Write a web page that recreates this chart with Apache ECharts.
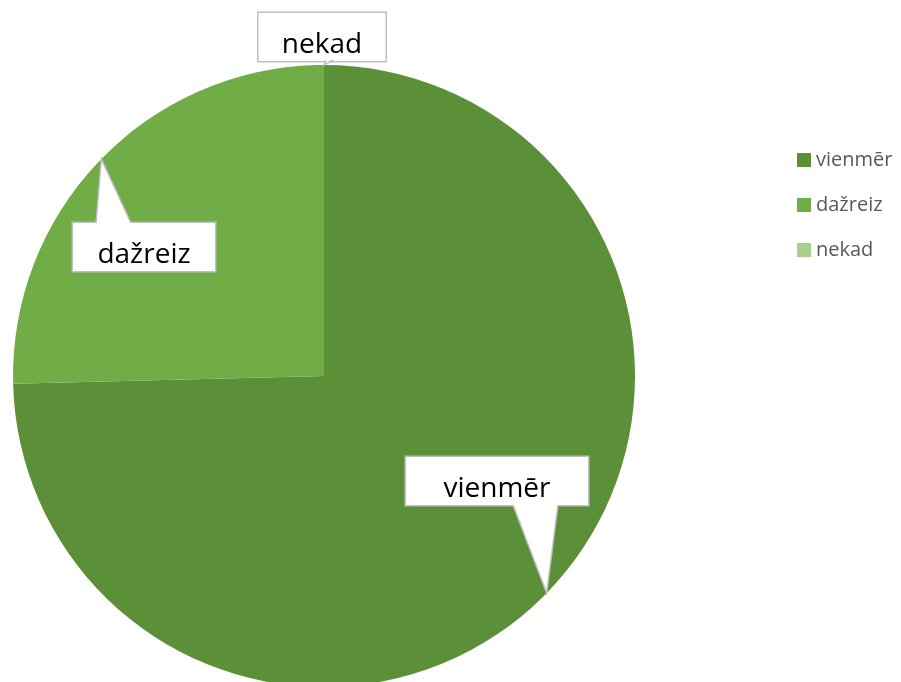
<!DOCTYPE html>
<html>
  <head>
    <meta charset="utf-8" />
    <title>vienmēr / dažreiz / nekad</title>
    <script src="https://cdn.jsdelivr.net/npm/echarts@6/dist/echarts.min.js"></script>
  </head>
  <body style="margin: 0; padding: 0; border: 0; background: #fff">
    <div id="main" style="width: 901px; height: 682px"></div>
    <script type="text/javascript">
      var categories = ["vienmēr", "dažreiz", "nekad"];
      var values = [74.6, 25.4, 0];
      var colors = ["#5b9039", "#70ad47", "#a9d18e"];

      // callout boxes: top-centre anchor, width, and where the pointer leaves the box
      var boxAnchors = [
        [497, 457],
        [144, 223],
        [322, 13],
      ];
      var boxWidths = [182, 142, 127];
      var pointerBases = [
        [513, 558, 505],
        [96, 131, 223],
        [326, 333, 60],
      ];

      var pieCenter = [324, 376];
      var pieRadius = 311;

      // pointer tips sit on the rim at each slice's middle angle
      var total = values.reduce(function (a, b) { return a + b; }, 0);
      var cum = 0;
      var pointers = [];
      values.forEach(function (v, i) {
        var ang = ((cum + v / 2) / total) * Math.PI * 2;
        cum += v;
        var tip = [
          pieCenter[0] + pieRadius * Math.sin(ang),
          pieCenter[1] - pieRadius * Math.cos(ang),
        ];
        var b = pointerBases[i];
        var inset = b[2] > tip[1] ? 1 : -1;
        pointers.push({
          type: "polygon",
          z: 100,
          shape: { points: [[b[0], b[2] + inset], tip, [b[1], b[2] + inset]] },
          style: { fill: "#fff", stroke: null },
        });
        pointers.push({
          type: "polyline",
          z: 101,
          shape: { points: [[b[0], b[2]], tip, [b[1], b[2]]] },
          style: { fill: null, stroke: "#bfbfbf", lineWidth: 1.5 },
        });
      });

      var myChart = echarts.init(document.getElementById("main"));

      myChart.setOption({
        animation: false,
        legend: {
          orient: "vertical",
          left: 792,
          top: 145,
          itemWidth: 14,
          itemHeight: 14,
          itemGap: 25,
          icon: "rect",
          textStyle: {
            fontFamily: "Open Sans",
            fontSize: 20,
            color: "#595959",
          },
          data: categories,
        },
        graphic: pointers,
        series: [
          {
            type: "pie",
            center: pieCenter,
            radius: pieRadius,
            startAngle: 90,
            clockwise: true,
            avoidLabelOverlap: false,
            data: categories.map(function (name, i) {
              return {
                name: name,
                value: values[i],
                itemStyle: { color: colors[i] },
                label: { width: boxWidths[i] },
              };
            }),
            label: {
              show: true,
              position: "outside",
              formatter: "{b}",
              fontFamily: "Open Sans",
              fontSize: 28,
              color: "#000",
              align: "center",
              overflow: "none",
              backgroundColor: "#fff",
              borderColor: "#bfbfbf",
              borderWidth: 1.5,
              padding: [20, 0, 4, 0],
              lineHeight: 24,
            },
            labelLine: { show: false },
            labelLayout: function (p) {
              var c = boxAnchors[p.dataIndex];
              return { x: c[0], y: c[1], align: "center", verticalAlign: "top" };
            },
          },
        ],
      });
    </script>
  </body>
</html>
